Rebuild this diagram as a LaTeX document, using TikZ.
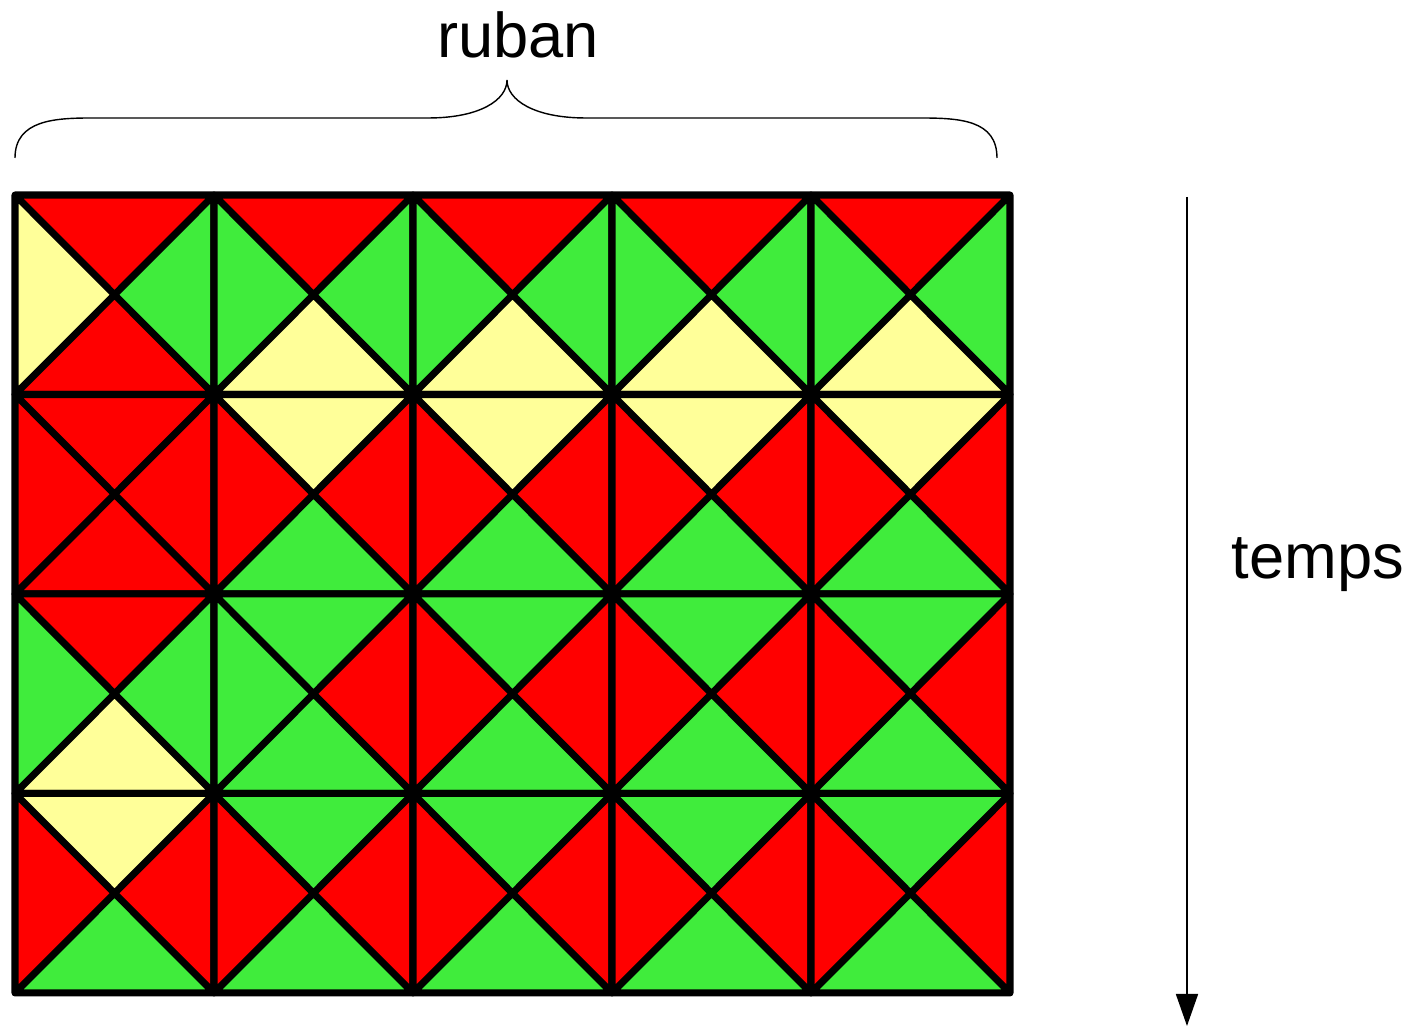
\documentclass[tikz,border=0pt]{standalone}
\usepackage{fontspec}
\setmainfont{Liberation Sans}
\usetikzlibrary{arrows.meta}

\definecolor{rd}{RGB}{255,0,0}
\definecolor{gn}{RGB}{64,236,60}
\definecolor{yl}{RGB}{255,255,153}

% one tile: column, row, then top, right, bottom, left colours
\newcommand{\wangtile}[6]{%
  \begin{scope}[shift={({0.15+1.99*#1},{-1.95-1.995*#2})}]
    \fill[#3] (0,0) -- (1.99,0) -- (0.995,-0.9975) -- cycle;
    \fill[#4] (1.99,0) -- (1.99,-1.995) -- (0.995,-0.9975) -- cycle;
    \fill[#5] (1.99,-1.995) -- (0,-1.995) -- (0.995,-0.9975) -- cycle;
    \fill[#6] (0,-1.995) -- (0,0) -- (0.995,-0.9975) -- cycle;
    \draw[tileline] (0,0) rectangle (1.99,-1.995)
      (0,0) -- (1.99,-1.995) (1.99,0) -- (0,-1.995);
  \end{scope}}

\begin{document}
\begin{tikzpicture}[>=Stealth,
  tileline/.style={line width=2pt, line join=round},
  label/.style={font=\fontsize{18}{22}\selectfont}]

\useasboundingbox (0,0) rectangle (14.13,-10.26);

\foreach \c/\r/\t/\e/\b/\w in {
  0/0/rd/gn/rd/yl, 1/0/rd/gn/yl/gn, 2/0/rd/gn/yl/gn, 3/0/rd/gn/yl/gn, 4/0/rd/gn/yl/gn,
  0/1/rd/rd/rd/rd, 1/1/yl/rd/gn/rd, 2/1/yl/rd/gn/rd, 3/1/yl/rd/gn/rd, 4/1/yl/rd/gn/rd,
  0/2/rd/gn/yl/gn, 1/2/gn/rd/gn/gn, 2/2/gn/rd/gn/rd, 3/2/gn/rd/gn/rd, 4/2/gn/rd/gn/rd,
  0/3/yl/rd/gn/rd, 1/3/gn/rd/gn/rd, 2/3/gn/rd/gn/rd, 3/3/gn/rd/gn/rd, 4/3/gn/rd/gn/rd}
  \wangtile{\c}{\r}{\t}{\e}{\b}{\w};

% brace over the tape
\draw[line width=0.4pt] (0.15,-1.58) .. controls (0.15,-1.2) and (0.55,-1.18) .. (0.92,-1.18)
  -- (4.28,-1.18) .. controls (4.8,-1.18) and (5.07,-1.0) .. (5.07,-0.8)
  .. controls (5.07,-1.0) and (5.34,-1.18) .. (5.86,-1.18)
  -- (9.2,-1.18) .. controls (9.6,-1.18) and (9.97,-1.2) .. (9.97,-1.58);
\node[label] (ruban) at (5.18,-0.35) {ruban};

% time axis
\coordinate (tstart) at (11.87,-1.97);
\coordinate (tend) at (11.87,-10.26);
\draw[->, >={Triangle[width=0.22cm,length=0.32cm]}, line width=0.5pt] (tstart) -- (tend);
\node[label] (temps) at (13.18,-5.65) {temps};

\end{tikzpicture}
\end{document}
